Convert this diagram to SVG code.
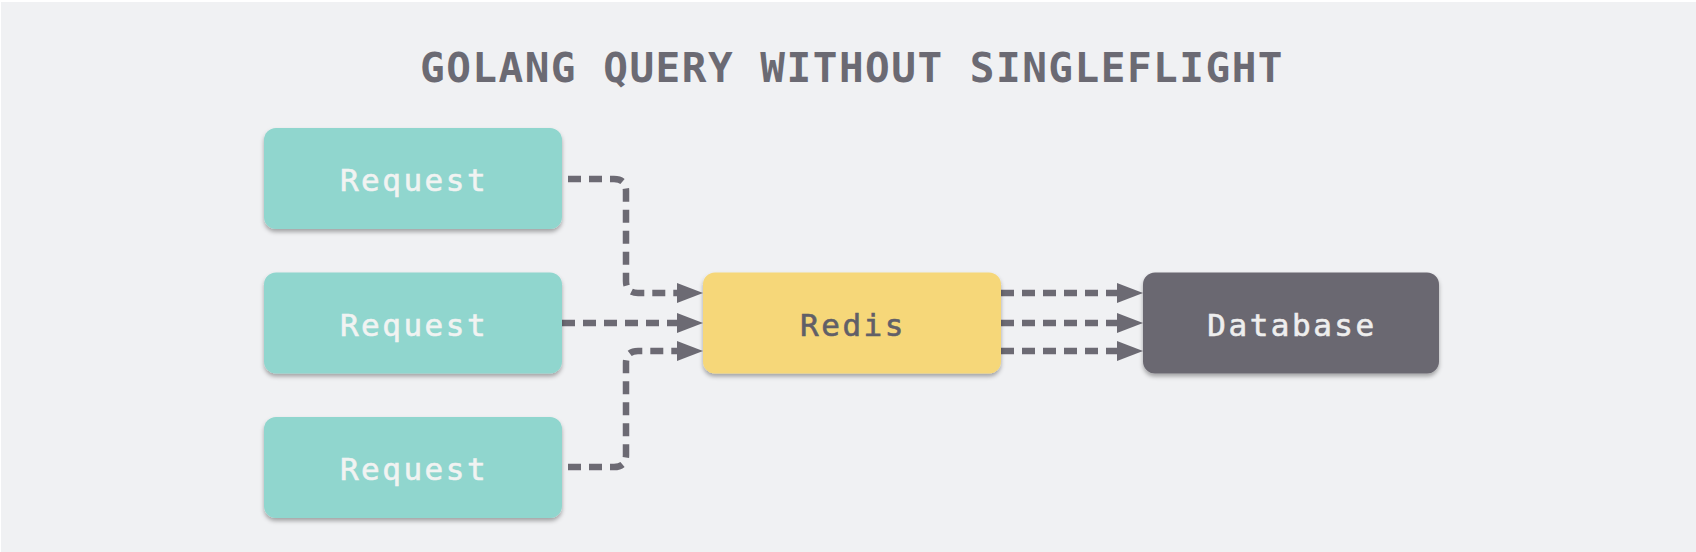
<svg xmlns="http://www.w3.org/2000/svg" width="1696" height="552" viewBox="0 0 1696 552">
<style>
.box{filter:url(#sh)}
.lbl{font-family:"DejaVu Sans Mono","Liberation Mono",monospace;font-size:31px;letter-spacing:2.5px;text-anchor:middle;stroke-width:0.6px}
.conn{fill:none;stroke:#6c6a73;stroke-width:6.5;stroke-dasharray:13 8;marker-end:url(#ah)}
</style>
<defs>
<filter id="sh" x="-10%" y="-10%" width="120%" height="130%">
<feDropShadow dx="0" dy="3" stdDeviation="2.2" flood-color="#000" flood-opacity="0.32"/>
</filter>
<marker id="ah" markerUnits="userSpaceOnUse" markerWidth="26" markerHeight="20" refX="13" refY="10" orient="auto">
<path d="M0,0 L26,10 L0,20 Z" fill="#6c6a73"/>
</marker>
</defs>
<rect x="0" y="0" width="1696" height="552" fill="#ffffff"/>
<rect x="1" y="2" width="1695" height="550" fill="#f0f1f3"/>
<text x="852" y="82" font-family="DejaVu Sans Mono,Liberation Mono,monospace" font-size="41" font-weight="bold" letter-spacing="1.5" text-anchor="middle" fill="#6b6a73">GOLANG QUERY WITHOUT SINGLEFLIGHT</text>
<g id="connectors">
<path class="conn" d="M568,179 H614 Q626,179 626,191 V281 Q626,293 638,293 H690"/>
<path class="conn" d="M562,323 H690"/>
<path class="conn" d="M568,467 H614 Q626,467 626,455 V363 Q626,351 638,351 H690"/>
<path class="conn" d="M1001,293 H1130"/>
<path class="conn" d="M1001,323 H1130"/>
<path class="conn" d="M1001,351 H1130"/>
</g>
<g id="req1">
<rect class="box" x="264" y="128" width="298" height="101" rx="12" fill="#90d6ce"/>
<text class="lbl" x="414" y="191" fill="#f1f3f2" stroke="#f1f3f2">Request</text>
</g>
<g id="req2">
<rect class="box" x="264" y="272.5" width="298" height="101" rx="12" fill="#90d6ce"/>
<text class="lbl" x="414" y="335.5" fill="#f1f3f2" stroke="#f1f3f2">Request</text>
</g>
<g id="req3">
<rect class="box" x="264" y="417" width="298" height="101" rx="12" fill="#90d6ce"/>
<text class="lbl" x="414" y="480" fill="#f1f3f2" stroke="#f1f3f2">Request</text>
</g>
<g id="redis">
<rect class="box" x="703" y="272.5" width="298" height="101" rx="12" fill="#f6d779"/>
<text class="lbl" x="853" y="335.5" fill="#615f68" stroke="#615f68">Redis</text>
</g>
<g id="database">
<rect class="box" x="1143" y="272.5" width="296" height="101" rx="12" fill="#6a6771"/>
<text class="lbl" x="1292" y="335.5" fill="#eeeeee" stroke="#eeeeee">Database</text>
</g>
</svg>
